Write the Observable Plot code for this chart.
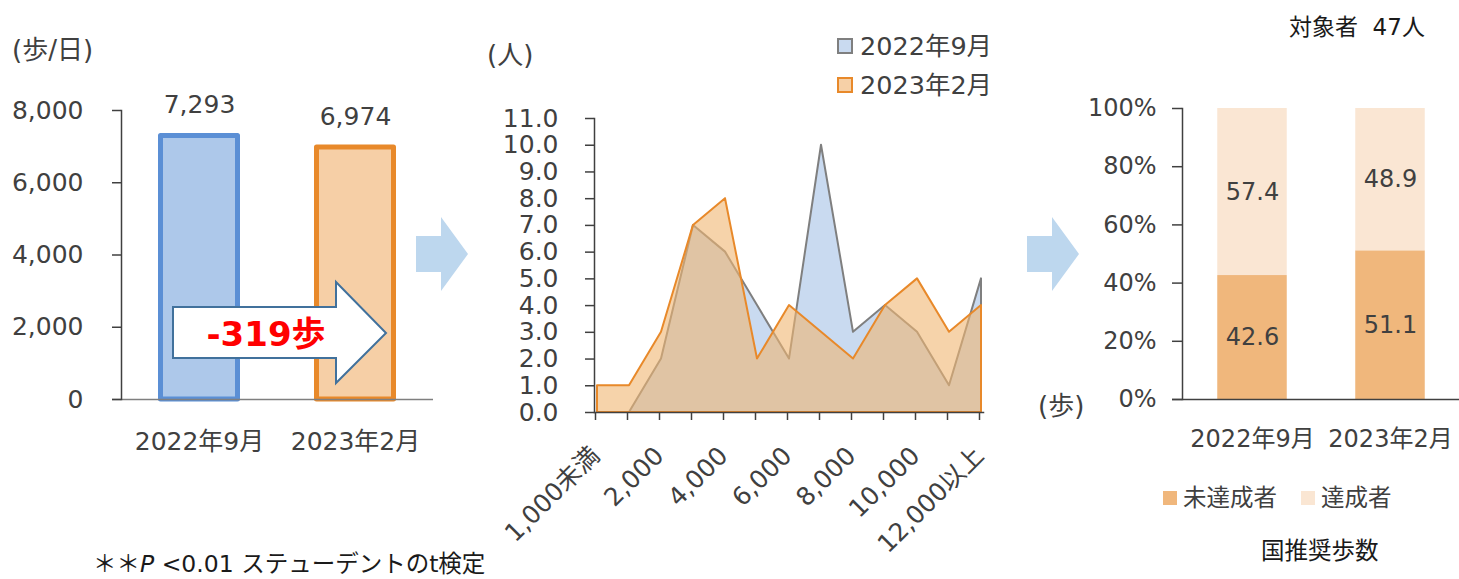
<!DOCTYPE html>
<html>
<head>
<meta charset="utf-8">
<script src="https://cdn.jsdelivr.net/npm/d3@7"></script>
<script src="https://cdn.jsdelivr.net/npm/@observablehq/plot@0.6"></script>
<style>
  body { margin: 0; background: #fff; }
  #root { position: relative; width: 1459px; height: 579px; overflow: hidden; background: #fff; }
  #root svg { position: absolute; }
</style>
</head>
<body>
<div id="root"></div>
<script>
// ---- data ----
const periods = ["2022年9月", "2023年2月"];
const avgSteps = [7293, 6974];
const stepTicks = [0, 2000, 4000, 6000, 8000];

const stepBins = ["1,000未満", "1,000", "2,000", "3,000", "4,000", "5,000", "6,000",
                  "7,000", "8,000", "9,000", "10,000", "11,000", "12,000以上"];
const people2022 = [0, 0, 2, 7, 6, 4, 2, 10, 3, 4, 3, 1, 5];
const people2023 = [1, 1, 3, 7, 8, 2, 4, 3, 2, 4, 5, 3, 4];
const peopleTicks = [0, 1, 2, 3, 4, 5, 6, 7, 8, 9, 10, 11];

const goalGroups = ["未達成者", "達成者"];
const goalShare2022 = [42.6, 57.4];
const goalShare2023 = [51.1, 48.9];
const shareTicks = [0, 20, 40, 60, 80, 100];
const participants = 47;

// ---- styling ----
const FONT = '"DejaVu Sans", "Noto Sans CJK JP", sans-serif';
const INK = "#404040";
const barFill = ["#adc8ea", "#f6cfa6"];
const barStroke = ["#5b8fd5", "#e8892a"];
const areaFill = ["#c9daf0", "#f0b671"];
const areaStroke = ["#7f7f7f", "#e8892a"];
const goalColors = ["#f0b77c", "#fae6d3"];

const root = document.getElementById("root");
function place(svg, left, top) {
  svg.style.left = left + "px";
  svg.style.top = top + "px";
  root.appendChild(svg);
}
const baseStyle = { fontFamily: FONT, color: INK, background: "transparent", overflow: "visible" };

// ---- panel 1: average daily steps ----
const stepsData = periods.map((p, i) => ({ period: p, steps: avgSteps[i] }));
const chartSteps = Plot.plot({
  width: 470, height: 470,
  marginLeft: 121, marginRight: 37, marginTop: 110, marginBottom: 71,
  style: { ...baseStyle, fontSize: "25px" },
  x: { domain: periods, padding: 0, axis: null },
  y: { domain: [0, 8000], axis: null },
  marks: [
    ...periods.map((p, i) => Plot.barY(stepsData.filter(d => d.period === p), {
      x: "period", y: "steps", fill: barFill[i], stroke: barStroke[i], strokeWidth: 5,
      strokeLinejoin: "round", insetLeft: 39.5, insetRight: 39.5
    })),
    Plot.ruleY([0], { stroke: "#7f7f7f", strokeWidth: 1.5, insetLeft: -9 }),
    Plot.frame({ anchor: "left", strokeWidth: 1.5 }),
    Plot.axisY({ ticks: stepTicks, tickFormat: d3.format(","), tickSize: 9, tickPadding: 29,
                 strokeWidth: 1.5, fontSize: 25, label: null }),
    Plot.axisX({ tickSize: 0, tickPadding: 33, fontSize: 25, label: null }),
    Plot.text(stepsData, { x: "period", y: "steps", text: d => d3.format(",")(d.steps),
                           dy: -31, fontSize: 25, fill: INK })
  ]
});
place(chartSteps, 0, 0);

// ---- panel 2: distribution of people by daily steps ----
const dist2022 = stepBins.map((b, i) => ({ bin: b, people: people2022[i] }));
const dist2023 = stepBins.map((b, i) => ({ bin: b, people: people2023[i] }));
const chartDist = Plot.plot({
  width: 540, height: 579,
  marginLeft: 114, marginRight: 37, marginTop: 118, marginBottom: 167,
  style: { ...baseStyle, fontSize: "25px" },
  x: { type: "point", domain: stepBins, padding: 0, axis: null },
  y: { domain: [0, 11], axis: null },
  marks: [
    Plot.areaY(dist2022, { x: "bin", y: "people", fill: areaFill[0], stroke: areaStroke[0], strokeWidth: 2 }),
    Plot.areaY(dist2023, { x: "bin", y: "people", fill: areaFill[1], fillOpacity: 0.6,
                           stroke: areaStroke[1], strokeWidth: 2 }),
    Plot.frame({ anchor: "left", strokeWidth: 1.5 }),
    Plot.frame({ anchor: "bottom", strokeWidth: 1.5 }),
    Plot.axisY({ ticks: peopleTicks, tickFormat: d3.format(".1f"), tickSize: 9, tickPadding: 27,
                 strokeWidth: 1.5, fontSize: 25, label: null }),
    Plot.axisX({ tickSize: 8, tickRotate: -45, tickPadding: 31, dx: -2, strokeWidth: 1.5,
                 tickFormat: d => (stepBins.indexOf(d) % 2 === 0 ? d : ""), fontSize: 25, label: null })
  ]
});
place(chartDist, 480, 0);

// ---- panel 3: share reaching the recommended step count ----
const goalData = [
  ...goalGroups.map((g, i) => ({ period: periods[0], group: g, share: goalShare2022[i] })),
  ...goalGroups.map((g, i) => ({ period: periods[1], group: g, share: goalShare2023[i] }))
];
const chartGoal = Plot.plot({
  width: 439, height: 470,
  marginLeft: 162, marginRight: 0, marginTop: 108, marginBottom: 71,
  style: { ...baseStyle, fontSize: "24px" },
  x: { domain: periods, padding: 0, axis: null },
  y: { domain: [0, 100], axis: null },
  color: { domain: goalGroups, range: goalColors },
  marks: [
    Plot.barY(goalData, { x: "period", y: "share", fill: "group", insetLeft: 34.25, insetRight: 34.25 }),
    Plot.text(goalData, Plot.stackY({ x: "period", y: "share", text: d => d.share.toFixed(1),
                                      fontSize: 24, fill: INK })),
    Plot.ruleY([0], { stroke: INK, strokeWidth: 1.5, insetLeft: -10 }),
    Plot.frame({ anchor: "left", strokeWidth: 1.5 }),
    Plot.axisY({ ticks: shareTicks, tickFormat: d => d + "%", tickSize: 10, tickPadding: 16,
                 strokeWidth: 1.5, fontSize: 24, label: null }),
    Plot.axisX({ tickSize: 0, tickPadding: 30, fontSize: 24, label: null })
  ]
});
place(chartGoal, 1020, 0);

// ---- annotations: arrows, titles, legends, note ----
const svg = d3.create("svg")
  .attr("width", 1459).attr("height", 579)
  .style("left", "0px").style("top", "0px")
  .style("font-family", FONT).style("pointer-events", "none");

function label(x, y, text, size, color, extra) {
  const t = svg.append("text")
    .attr("x", x).attr("y", y)
    .attr("dominant-baseline", "central")
    .attr("font-size", size).attr("fill", color || INK)
    .style("white-space", "pre")
    .text(text);
  if (extra) extra(t);
  return t;
}

// flow arrows between the panels
const flowArrow = x0 => [[x0, 236], [x0 + 25, 236], [x0 + 25, 217], [x0 + 52, 254],
                         [x0 + 25, 291], [x0 + 25, 272], [x0, 272]];
[416, 1027].forEach(x0 => {
  svg.append("polygon").attr("points", flowArrow(x0).join(" ")).attr("fill", "#bdd7ee");
});

// change arrow across the step bars
svg.append("polygon")
  .attr("points", [[173, 307], [336, 307], [336, 282], [386, 333], [336, 383], [336, 358], [173, 358]].join(" "))
  .attr("fill", "#fff").attr("stroke", "#41719c").attr("stroke-width", 2).attr("stroke-linejoin", "miter");
label(266, 334, `${avgSteps[1] - avgSteps[0]}歩`, 34, "#ff0000", t => t.attr("text-anchor", "middle").attr("font-weight", "bold"));

// unit labels
label(12, 50, "(歩/日)", 26);
label(487, 55, "(人)", 26);
label(1038, 406, "(歩)", 26);

// legend for the distribution chart
periods.forEach((p, i) => {
  const cy = [46, 85][i];
  svg.append("rect").attr("x", 838).attr("y", cy - 7).attr("width", 14).attr("height", 14)
    .attr("fill", i === 0 ? areaFill[0] : "#f6d0a7").attr("stroke", areaStroke[i]).attr("stroke-width", 2);
  label(860, cy, p, 25.5);
});

// participants
label(1289, 27, `対象者  ${participants}人`, 23, "#1a1a1a");

// legend for the goal chart
goalGroups.forEach((g, i) => {
  const x0 = [1163, 1301][i];
  svg.append("rect").attr("x", x0).attr("y", 491).attr("width", 14).attr("height", 14).attr("fill", goalColors[i]);
  label(x0 + 20, 498, g, 23.5);
});
label(1261, 551, "国推奨歩数", 23.5, "#1a1a1a");

// significance note
label(93, 564, "", 23.5, "#1a1a1a", t => {
  t.append("tspan").text("＊＊");
  t.append("tspan").attr("font-style", "italic").text("P");
  t.append("tspan").text(" <0.01 ステューデントのt検定");
});

root.appendChild(svg.node());
</script>
</body>
</html>
